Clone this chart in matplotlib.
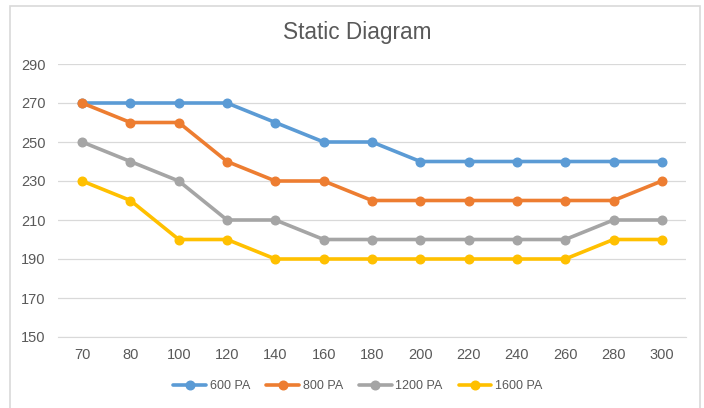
import matplotlib.pyplot as plt
from matplotlib.patches import Rectangle

pressure = ["70", "80", "100", "120", "140", "160", "180", "200", "220", "240", "260", "280", "300"]
pa_600 = [270, 270, 270, 270, 260, 250, 250, 240, 240, 240, 240, 240, 240]
pa_800 = [270, 260, 260, 240, 230, 230, 220, 220, 220, 220, 220, 220, 230]
pa_1200 = [250, 240, 230, 210, 210, 200, 200, 200, 200, 200, 200, 210, 210]
pa_1600 = [230, 220, 200, 200, 190, 190, 190, 190, 190, 190, 190, 200, 200]

series = [
    ("600 PA", pa_600, "#5B9BD5"),
    ("800 PA", pa_800, "#ED7D31"),
    ("1200 PA", pa_1200, "#A5A5A5"),
    ("1600 PA", pa_1600, "#FFC000"),
]

plt.rcParams["font.family"] = ["Liberation Sans", "DejaVu Sans"]
text_color = "#595959"
grid_color = "#D9D9D9"

fig = plt.figure(figsize=(7.04, 4.08), dpi=100)
# chart frame
fig.patches.append(Rectangle((10 / 704, -0.01), 690 / 704, 1 - 6 / 408 + 0.01,
                             transform=fig.transFigure, fill=False,
                             edgecolor=grid_color, linewidth=1.2))

ax = fig.add_axes([58 / 704, 1 - 337 / 408, 628 / 704, (337 - 64) / 408])
x = list(range(len(pressure)))
for name, vals, color in series:
    ax.plot(x, vals, color=color, linewidth=2.6, marker="o", markersize=6.2,
            solid_capstyle="round", label=name, zorder=3)

ax.set_xlim(-0.5, len(pressure) - 0.5)
ax.set_ylim(150, 290)
ax.set_yticks(range(150, 291, 20))
ax.set_xticks(x)
ax.set_xticklabels(pressure)
ax.grid(axis="y", color=grid_color, linewidth=0.9)
ax.set_axisbelow(True)
for side in ["top", "right", "left"]:
    ax.spines[side].set_visible(False)
ax.spines["bottom"].set_color(grid_color)
ax.tick_params(axis="both", length=0, labelsize=10.5, colors=text_color)
ax.tick_params(axis="y", pad=9)
ax.tick_params(axis="x", pad=8)

fig.text(357 / 704, 1 - 33 / 408, "Static Diagram", ha="center", va="center",
         fontsize=16.3, color=text_color)

fig.legend(loc="center", bbox_to_anchor=(358 / 704, 1 - 386 / 408), ncol=4,
           frameon=False, fontsize=9, labelcolor=text_color, handlelength=2.6,
           handletextpad=0.3, columnspacing=1.3)

fig.savefig("out.png", dpi=100)
